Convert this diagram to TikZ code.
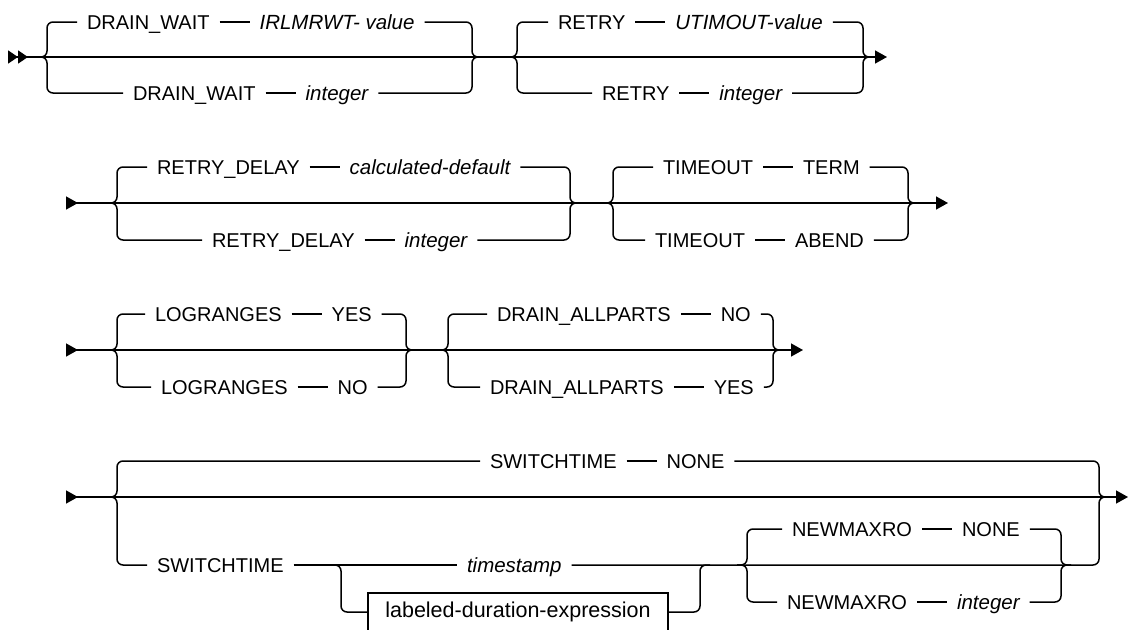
\documentclass[tikz,border=0pt]{standalone}
\usepackage{fontspec}
\setmainfont{Liberation Sans}
\usepackage{tikz}
\usetikzlibrary{arrows.meta, positioning}

\begin{document}
\begin{tikzpicture}[
x=1pt, y=-1pt,
node distance=30pt,
rail/.style={line width=1.5pt, rounded corners=6pt},
kw/.style={
    font=\fontsize{20}{24}\selectfont,
    inner xsep=0pt, inner ysep=0pt, outer xsep=10pt, outer ysep=0pt,
    text height=14pt, text depth=0pt, anchor=west
},
var/.style={kw, font=\fontsize{20.5}{24}\selectfont\itshape},
frag/.style={draw, line width=1.5pt, font=\fontsize{21.5}{24}\selectfont,
    anchor=west, minimum width=300pt, minimum height=38pt,
    inner xsep=10pt, outer sep=0pt},
startdouble/.style={{Triangle[reversed,length=10pt,width=13pt]Triangle[reversed,length=10pt,width=13pt]}-{Triangle[length=12pt,width=13pt]}},
startsingle/.style={{Triangle[reversed,length=12pt,width=13pt]}-{Triangle[length=12pt,width=13pt]}}
]
\useasboundingbox (0,0) rectangle (1129,629);

% row 1
\coordinate (row1s) at (8,57);
\coordinate (row1e) at (887,57);
\coordinate (dwL) at (47,57);
\coordinate (dwR) at (472,57);
\coordinate (rtL) at (517,57);
\coordinate (rtR) at (863,57);

\node[kw] (dwA) at (77,22) {DRAIN\_WAIT};
\node[var, right=of dwA] (dwAv) {IRLMRWT- value};
\node[kw] (dwB) at (123,93) {DRAIN\_WAIT};
\node[var, right=of dwB] (dwBv) {integer};

\node[kw] (rtA) at (548,22) {RETRY};
\node[var, right=of rtA] (rtAv) {UTIMOUT-value};
\node[kw] (rtB) at (592,93) {RETRY};
\node[var, right=of rtB] (rtBv) {integer};

\draw[rail, startdouble] (row1s) -- (row1e);
\draw[rail] ([xshift=-10pt]dwL) -| (dwL |- dwA.west) -- (dwA);
\draw[rail] (dwA) -- (dwAv);
\draw[rail] (dwAv) -| (dwR) -- ([xshift=10pt]dwR);
\draw[rail] ([xshift=-10pt]dwL) -| (dwL |- dwB.west) -- (dwB);
\draw[rail] (dwB) -- (dwBv);
\draw[rail] (dwBv) -| (dwR) -- ([xshift=10pt]dwR);

\draw[rail] ([xshift=-10pt]rtL) -| (rtL |- rtA.west) -- (rtA);
\draw[rail] (rtA) -- (rtAv);
\draw[rail] (rtAv) -| (rtR) -- ([xshift=10pt]rtR);
\draw[rail] ([xshift=-10pt]rtL) -| (rtL |- rtB.west) -- (rtB);
\draw[rail] (rtB) -- (rtBv);
\draw[rail] (rtBv) -| (rtR) -- ([xshift=10pt]rtR);

% row 2
\coordinate (row2s) at (66,203);
\coordinate (row2e) at (948,203);
\coordinate (rdL) at (117,203);
\coordinate (rdR) at (570,203);
\coordinate (toL) at (613,203);
\coordinate (toR) at (908,203);

\node[kw] (rdA) at (147,167) {RETRY\_DELAY};
\node[var, right=of rdA] (rdAv) {calculated-default};
\node[kw] (rdB) at (202,240) {RETRY\_DELAY};
\node[var, right=of rdB] (rdBv) {integer};

\node[kw] (toA) at (653,167) {TIMEOUT};
\node[kw, right=of toA] (toAv) {TERM};
\node[kw] (toB) at (645,240) {TIMEOUT};
\node[kw, right=of toB] (toBv) {ABEND};

\draw[rail, startsingle] (row2s) -- (row2e);
\draw[rail] ([xshift=-10pt]rdL) -| (rdL |- rdA.west) -- (rdA);
\draw[rail] (rdA) -- (rdAv);
\draw[rail] (rdAv) -| (rdR) -- ([xshift=10pt]rdR);
\draw[rail] ([xshift=-10pt]rdL) -| (rdL |- rdB.west) -- (rdB);
\draw[rail] (rdB) -- (rdBv);
\draw[rail] (rdBv) -| (rdR) -- ([xshift=10pt]rdR);

\draw[rail] ([xshift=-10pt]toL) -| (toL |- toA.west) -- (toA);
\draw[rail] (toA) -- (toAv);
\draw[rail] (toAv) -| (toR) -- ([xshift=10pt]toR);
\draw[rail] ([xshift=-10pt]toL) -| (toL |- toB.west) -- (toB);
\draw[rail] (toB) -- (toBv);
\draw[rail] (toBv) -| (toR) -- ([xshift=10pt]toR);

% row 3
\coordinate (row3s) at (66,350);
\coordinate (row3e) at (803,350);
\coordinate (lgL) at (117,350);
\coordinate (lgR) at (406,350);
\coordinate (daL) at (448,350);
\coordinate (daR) at (773,350);

\node[kw] (lgA) at (145,314) {LOGRANGES};
\node[kw, right=of lgA] (lgAv) {YES};
\node[kw] (lgB) at (151,387) {LOGRANGES};
\node[kw, right=of lgB] (lgBv) {NO};

\node[kw] (daA) at (487,314) {DRAIN\_ALLPARTS};
\node[kw, right=of daA] (daAv) {NO};
\node[kw] (daB) at (480,387) {DRAIN\_ALLPARTS};
\node[kw, right=of daB] (daBv) {YES};

\draw[rail, startsingle] (row3s) -- (row3e);
\draw[rail] ([xshift=-10pt]lgL) -| (lgL |- lgA.west) -- (lgA);
\draw[rail] (lgA) -- (lgAv);
\draw[rail] (lgAv) -| (lgR) -- ([xshift=10pt]lgR);
\draw[rail] ([xshift=-10pt]lgL) -| (lgL |- lgB.west) -- (lgB);
\draw[rail] (lgB) -- (lgBv);
\draw[rail] (lgBv) -| (lgR) -- ([xshift=10pt]lgR);

\draw[rail] ([xshift=-10pt]daL) -| (daL |- daA.west) -- (daA);
\draw[rail] (daA) -- (daAv);
\draw[rail] (daAv) -| (daR) -- ([xshift=10pt]daR);
\draw[rail] ([xshift=-10pt]daL) -| (daL |- daB.west) -- (daB);
\draw[rail] (daB) -- (daBv);
\draw[rail] (daBv) -| (daR) -- ([xshift=10pt]daR);

% row 4
\coordinate (row4s) at (66,497);
\coordinate (row4e) at (1128,497);
\coordinate (stL) at (117,497);
\coordinate (stR) at (1099,497);
\coordinate (forkL) at (341,565);
\coordinate (forkR) at (700,565);
\coordinate (nmL) at (747,565);
\coordinate (nmR) at (1061,565);

\node[kw] (stA) at (480,461) {SWITCHTIME};
\node[kw, right=of stA] (stAv) {NONE};
\node[kw] (stB) at (147,565) {SWITCHTIME};
\node[var] (ts) at (457,565) {timestamp};
\node[frag] (lde) at (368,612) {labeled-duration-expression};

\node[kw] (nmA) at (782,529) {NEWMAXRO};
\node[kw, right=of nmA] (nmAv) {NONE};
\node[kw] (nmB) at (777,602) {NEWMAXRO};
\node[var, right=of nmB] (nmBv) {integer};

\draw[rail, startsingle] (row4s) -- (row4e);
\draw[rail] ([xshift=-10pt]stL) -| (stL |- stA.west) -- (stA);
\draw[rail] (stA) -- (stAv);
\draw[rail] (stAv) -| (stR) -- ([xshift=10pt]stR);
\draw[rail] ([xshift=-10pt]stL) -| (stL |- stB.west) -- (stB);
\draw[rail] (stB) -- (ts);
\draw[rail] ([xshift=-10pt]forkL) -| (forkL |- lde.west) -- (lde);
\draw[rail] (lde) -| (forkR) -- ([xshift=10pt]forkR);
\draw[rail] (ts) -- (nmR) -| (stR) -- ([xshift=10pt]stR);

\draw[rail] ([xshift=-10pt]nmL) -| (nmL |- nmA.west) -- (nmA);
\draw[rail] (nmA) -- (nmAv);
\draw[rail] (nmAv) -| (nmR) -- ([xshift=10pt]nmR);
\draw[rail] ([xshift=-10pt]nmL) -| (nmL |- nmB.west) -- (nmB);
\draw[rail] (nmB) -- (nmBv);
\draw[rail] (nmBv) -| (nmR) -- ([xshift=10pt]nmR);

\end{tikzpicture}
\end{document}
